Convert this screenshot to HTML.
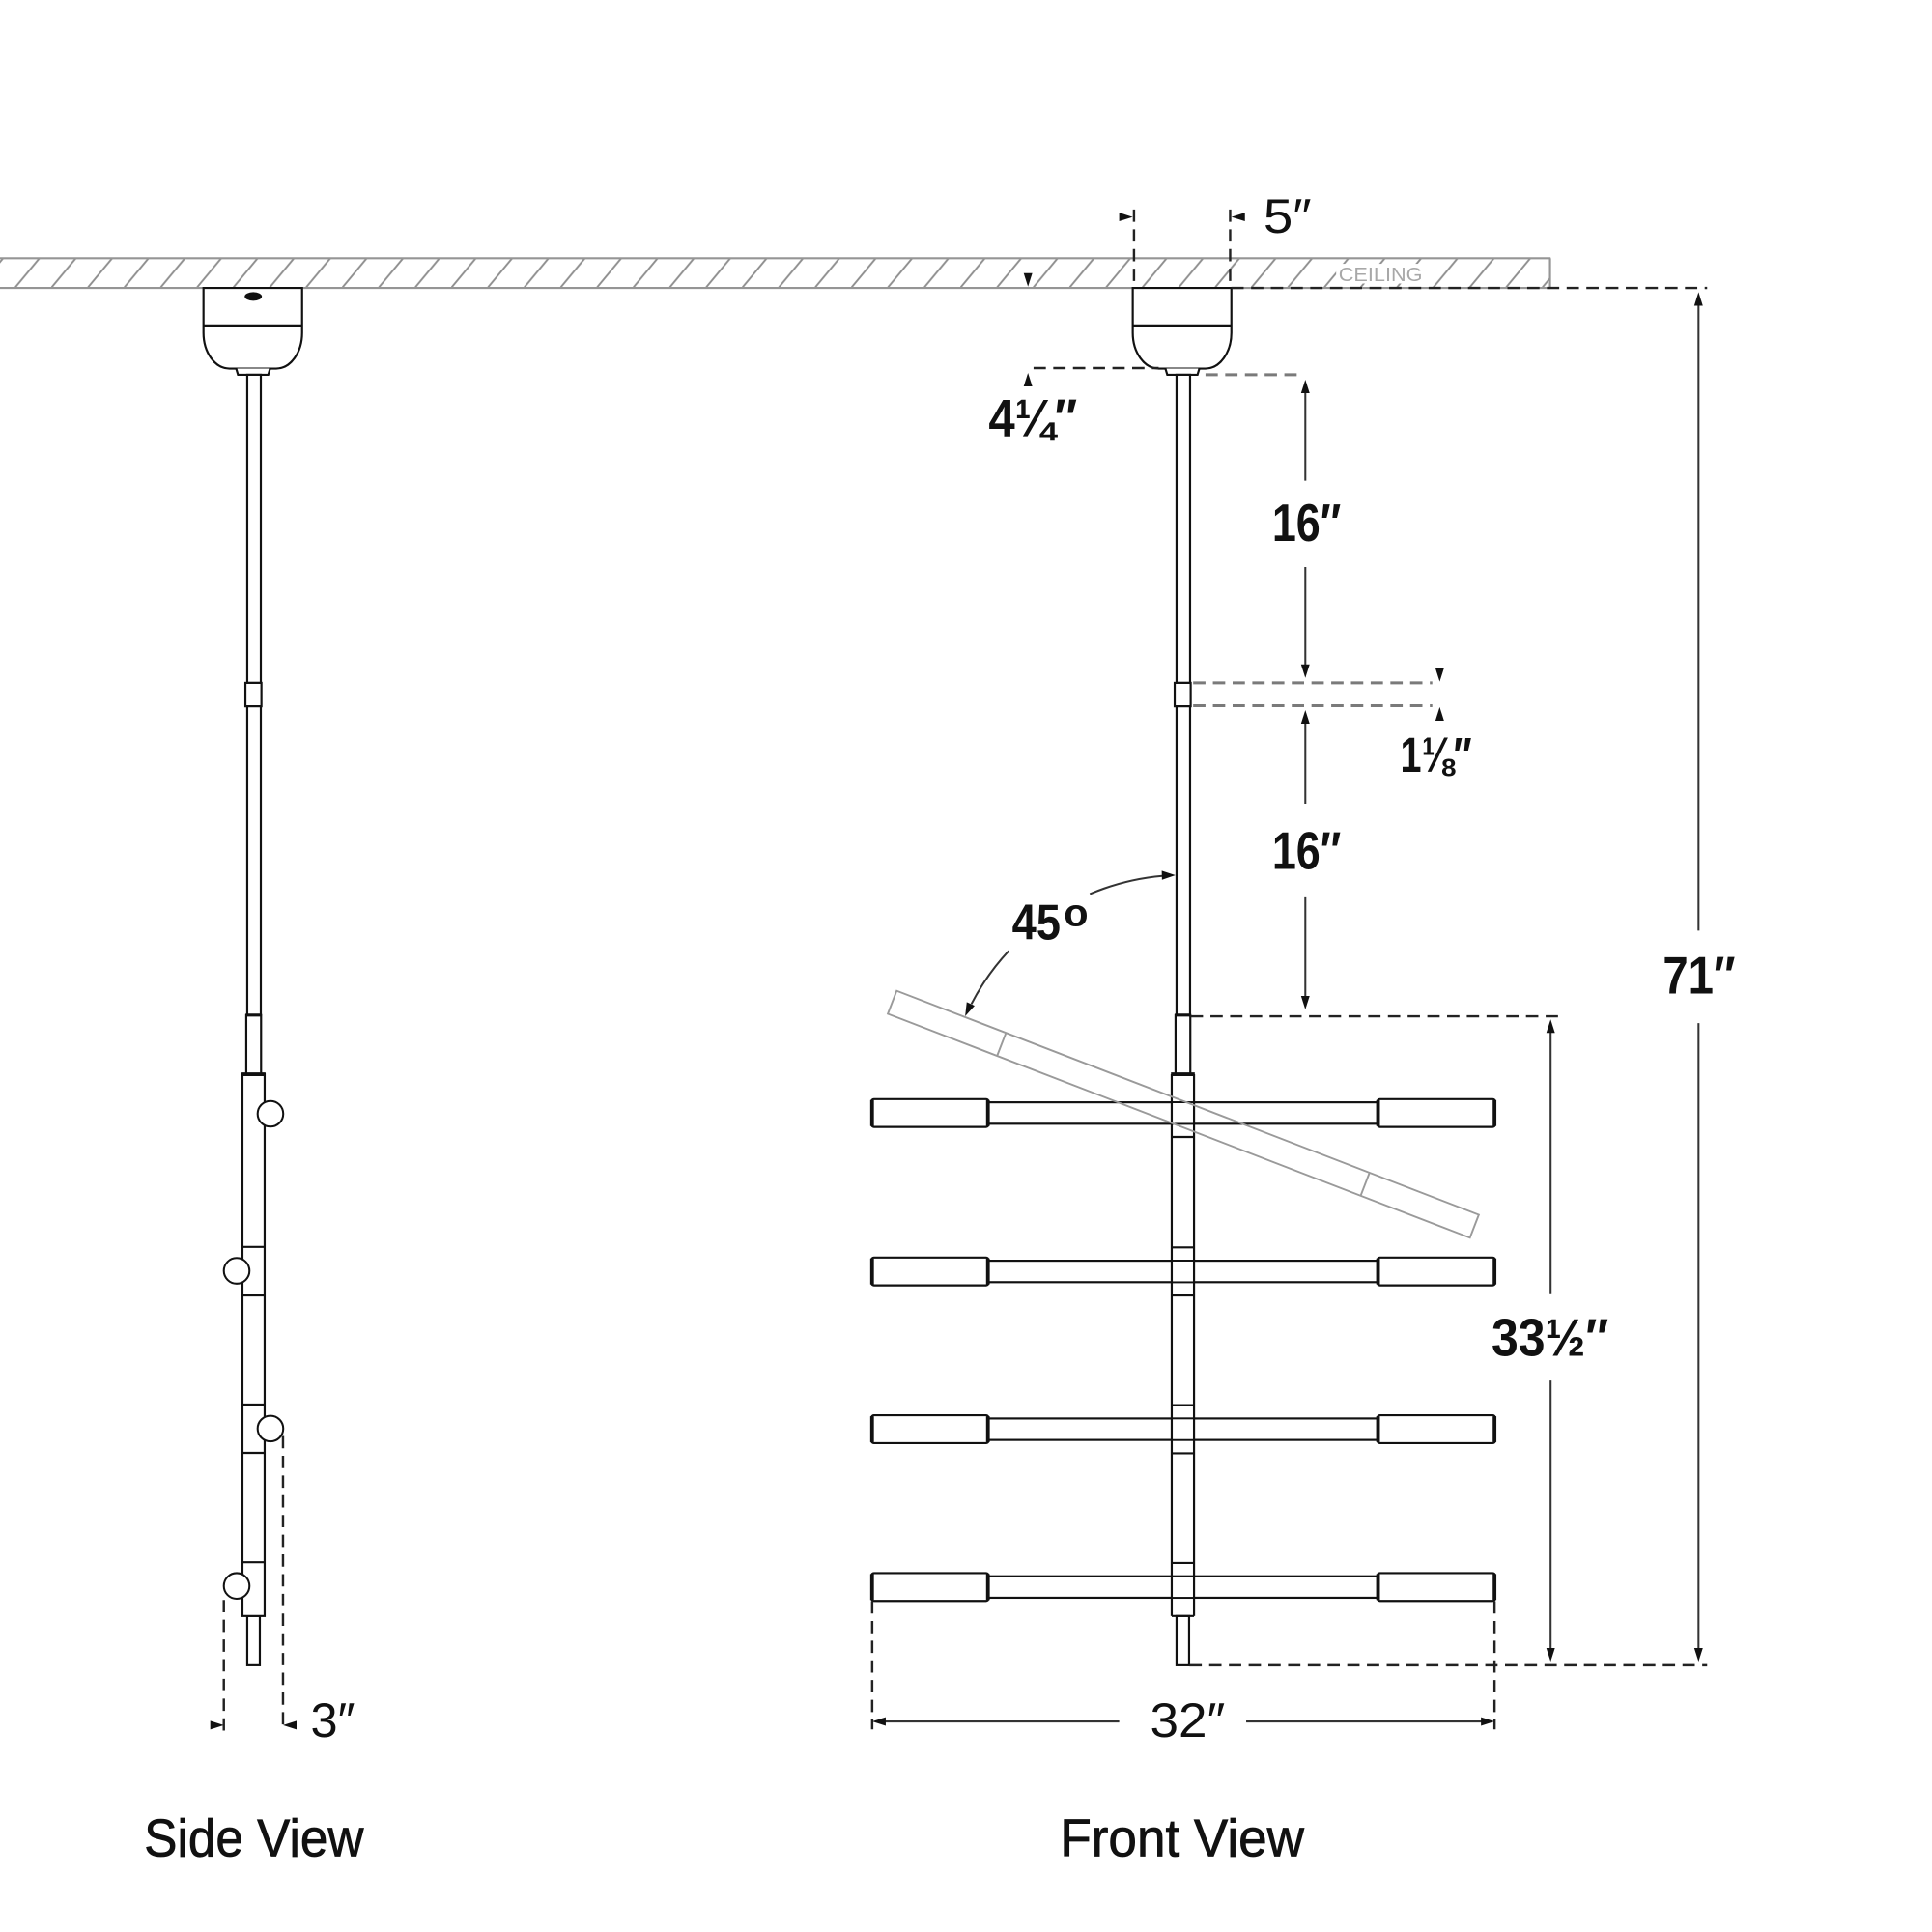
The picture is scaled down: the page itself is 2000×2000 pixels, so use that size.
<!DOCTYPE html>
<html>
<head>
<meta charset="utf-8">
<style>
html,body{margin:0;padding:0;background:#fff;}
svg{display:block;}
text{font-family:"Liberation Sans","DejaVu Sans",sans-serif;}
</style>
</head>
<body>
<svg width="2000" height="2000" viewBox="0 0 1567.4 1567.4" xmlns="http://www.w3.org/2000/svg">
<defs>
  <pattern id="hatch" patternUnits="userSpaceOnUse" x="12" y="209.5" width="29.5" height="24.1">
    <path d="M0,24.1 L20,0" stroke="#8e8e8e" stroke-width="1.5" fill="none"/>
  </pattern>
  <g id="pend" stroke="#111" stroke-width="1.7" fill="#fff">
    <path d="M919,233.6 V270 A21,29 0 0 0 940,299 H978 A21,29 0 0 0 999,270 V233.6 Z"/>
    <line x1="919" y1="264" x2="999" y2="264"/>
    <path d="M945.5,299 L947,304 H971.5 L973,299"/>
    <rect x="954.5" y="304" width="11" height="250"/>
    <rect x="953" y="554" width="13" height="19"/>
    <rect x="954.5" y="573" width="11" height="250.5"/>
    <rect x="953.7" y="823.5" width="12" height="48"/>
    <rect x="954.5" y="1311" width="10.2" height="40"/>
  </g>
</defs>

<rect x="0" y="0" width="1567.4" height="1567.4" fill="#fff"/>

<!-- Ceiling -->
<rect x="0" y="209.5" width="1258" height="24.1" fill="url(#hatch)"/>
<line x1="0" y1="209.5" x2="1258" y2="209.5" stroke="#959595" stroke-width="1.7"/>
<line x1="0" y1="233.6" x2="1258" y2="233.6" stroke="#959595" stroke-width="1.7"/>
<line x1="1257.5" y1="209.5" x2="1257.5" y2="233.6" stroke="#959595" stroke-width="1.7"/>
<rect x="1084" y="214" width="72" height="16" fill="#fff"/>
<text x="1086" y="228" font-size="16" fill="#a8a8a8" textLength="68" lengthAdjust="spacingAndGlyphs">CEILING</text>

<!-- ===== Front view pendant ===== -->
<g stroke="#111" stroke-width="1.7" fill="#fff">
  <rect x="802" y="894.3" width="315.5" height="17.4"/>
  <rect x="802" y="1022.8" width="315.5" height="17.4"/>
  <rect x="802" y="1150.8" width="315.5" height="17.4"/>
  <rect x="802" y="1278.8" width="315.5" height="17.4"/>
  <rect x="707" y="891.7" width="95" height="22.6" rx="2"/>
  <rect x="1117.5" y="891.7" width="95.5" height="22.6" rx="2"/>
  <rect x="707" y="1020.2" width="95" height="22.6" rx="2"/>
  <rect x="1117.5" y="1020.2" width="95.5" height="22.6" rx="2"/>
  <rect x="707" y="1148.2" width="95" height="22.6" rx="2"/>
  <rect x="1117.5" y="1148.2" width="95.5" height="22.6" rx="2"/>
  <rect x="707" y="1276.2" width="95" height="22.6" rx="2"/>
  <rect x="1117.5" y="1276.2" width="95.5" height="22.6" rx="2"/>
</g>
<g stroke="#111" stroke-width="3">
  <line x1="707.5" y1="892.5" x2="707.5" y2="913.5"/><line x1="801.5" y1="892.5" x2="801.5" y2="913.5"/>
  <line x1="1118" y1="892.5" x2="1118" y2="913.5"/><line x1="1212.5" y1="892.5" x2="1212.5" y2="913.5"/>
  <line x1="707.5" y1="1021" x2="707.5" y2="1042"/><line x1="801.5" y1="1021" x2="801.5" y2="1042"/>
  <line x1="1118" y1="1021" x2="1118" y2="1042"/><line x1="1212.5" y1="1021" x2="1212.5" y2="1042"/>
  <line x1="707.5" y1="1149" x2="707.5" y2="1170"/><line x1="801.5" y1="1149" x2="801.5" y2="1170"/>
  <line x1="1118" y1="1149" x2="1118" y2="1170"/><line x1="1212.5" y1="1149" x2="1212.5" y2="1170"/>
  <line x1="707.5" y1="1277" x2="707.5" y2="1298"/><line x1="801.5" y1="1277" x2="801.5" y2="1298"/>
  <line x1="1118" y1="1277" x2="1118" y2="1298"/><line x1="1212.5" y1="1277" x2="1212.5" y2="1298"/>
</g>

<use href="#pend"/>
<g stroke="#111" stroke-width="1.7" fill="none">
  <line x1="950.6" y1="871.5" x2="950.6" y2="894.3"/>
  <line x1="968.7" y1="871.5" x2="968.7" y2="894.3"/>
  <line x1="950.6" y1="911.7" x2="950.6" y2="1022.8"/>
  <line x1="968.7" y1="911.7" x2="968.7" y2="1022.8"/>
  <line x1="950.6" y1="1040.2" x2="950.6" y2="1150.8"/>
  <line x1="968.7" y1="1040.2" x2="968.7" y2="1150.8"/>
  <line x1="950.6" y1="1168.2" x2="950.6" y2="1278.8"/>
  <line x1="968.7" y1="1168.2" x2="968.7" y2="1278.8"/>
  <line x1="950.6" y1="1296.2" x2="950.6" y2="1311"/>
  <line x1="968.7" y1="1296.2" x2="968.7" y2="1311"/>
  <line x1="950.6" y1="1311" x2="968.7" y2="1311"/>
  <line x1="950.6" y1="922.4" x2="968.7" y2="922.4"/>
  <line x1="950.6" y1="1012" x2="968.7" y2="1012"/>
  <line x1="950.6" y1="1051" x2="968.7" y2="1051"/>
  <line x1="950.6" y1="1140" x2="968.7" y2="1140"/>
  <line x1="950.6" y1="1179" x2="968.7" y2="1179"/>
  <line x1="950.6" y1="1268" x2="968.7" y2="1268"/>
</g>
<g fill="#fff" stroke="none">
  <rect x="951.4" y="895" width="16.5" height="16"/>
  <rect x="951.4" y="1023.5" width="16.5" height="16"/>
  <rect x="951.4" y="1151.5" width="16.5" height="16"/>
  <rect x="951.4" y="1279.5" width="16.5" height="16"/>
</g>
<g stroke="#111" stroke-width="1.7">
  <line x1="950.6" y1="894" x2="950.6" y2="912"/><line x1="968.7" y1="894" x2="968.7" y2="912"/>
  <line x1="950.6" y1="1022.5" x2="950.6" y2="1040.5"/><line x1="968.7" y1="1022.5" x2="968.7" y2="1040.5"/>
  <line x1="950.6" y1="1150.5" x2="950.6" y2="1168.5"/><line x1="968.7" y1="1150.5" x2="968.7" y2="1168.5"/>
  <line x1="950.6" y1="1278.5" x2="950.6" y2="1296.5"/><line x1="968.7" y1="1278.5" x2="968.7" y2="1296.5"/>
</g>
<line x1="950" y1="871.5" x2="969.3" y2="871.5" stroke="#111" stroke-width="3"/>
<line x1="953.2" y1="823.5" x2="966.2" y2="823.5" stroke="#111" stroke-width="2.5"/>

<!-- tilted arm (gray) -->
<g transform="rotate(21.04 960 904)" stroke="#9a9a9a" stroke-width="1.5" fill="none">
  <rect x="707" y="894" width="506" height="20"/>
  <line x1="802" y1="894" x2="802" y2="914"/>
  <line x1="1118" y1="894" x2="1118" y2="914"/>
</g>

<!-- ===== Side view pendant ===== -->
<use href="#pend" transform="translate(-753.9 0)"/>
<ellipse cx="205.5" cy="240.5" rx="7" ry="3.5" fill="#111"/>
<g stroke="#111" stroke-width="1.7" fill="#fff">
  <rect x="196.7" y="871.5" width="18" height="439.5"/>
</g>
<g stroke="#111" stroke-width="1.7">
  <line x1="196.7" y1="1011.6" x2="214.7" y2="1011.6"/>
  <line x1="196.7" y1="1051" x2="214.7" y2="1051"/>
  <line x1="196.7" y1="1139.5" x2="214.7" y2="1139.5"/>
  <line x1="196.7" y1="1178.7" x2="214.7" y2="1178.7"/>
  <line x1="196.7" y1="1267.4" x2="214.7" y2="1267.4"/>
</g>
<line x1="196" y1="871.5" x2="215.4" y2="871.5" stroke="#111" stroke-width="3"/>
<line x1="199.3" y1="823.5" x2="212.3" y2="823.5" stroke="#111" stroke-width="2.5"/>
<g stroke="#111" stroke-width="1.6" fill="#fff">
  <circle cx="219.4" cy="903.6" r="10.4"/>
  <circle cx="192" cy="1031" r="10.4"/>
  <circle cx="219.4" cy="1159" r="10.4"/>
  <circle cx="192" cy="1286.6" r="10.4"/>
</g>

<!-- ===== Dashed extension lines ===== -->
<g stroke="#222" stroke-width="1.9" stroke-dasharray="10 6" fill="none">
  <line x1="999" y1="233.6" x2="1385" y2="233.6"/>
  <line x1="966" y1="824.5" x2="1265" y2="824.5"/>
  <line x1="965" y1="1351" x2="1385" y2="1351"/>
  <line x1="838.5" y1="298.6" x2="940" y2="298.6"/>
  <line x1="920" y1="170" x2="920" y2="233"/>
  <line x1="998" y1="170" x2="998" y2="233"/>
  <line x1="181.6" y1="1298" x2="181.6" y2="1404"/>
  <line x1="229.6" y1="1165" x2="229.6" y2="1404"/>
  <line x1="707.6" y1="1299" x2="707.6" y2="1403"/>
  <line x1="1212.5" y1="1299" x2="1212.5" y2="1403"/>
</g>
<g stroke="#7a7a7a" stroke-width="2.3" stroke-dasharray="10 6" fill="none">
  <line x1="978" y1="304" x2="1053" y2="304"/>
  <line x1="968" y1="554" x2="1162" y2="554"/>
  <line x1="968" y1="572.5" x2="1162" y2="572.5"/>
</g>

<!-- ===== Dimension lines ===== -->
<g stroke="#333" stroke-width="1.6" fill="none">
  <line x1="1059" y1="318" x2="1059" y2="390"/>
  <line x1="1059" y1="460" x2="1059" y2="540"/>
  <line x1="1059" y1="586" x2="1059" y2="652"/>
  <line x1="1059" y1="728" x2="1059" y2="809"/>
  <line x1="1258" y1="837" x2="1258" y2="1050"/>
  <line x1="1258" y1="1120" x2="1258" y2="1338"/>
  <line x1="1378" y1="247" x2="1378" y2="755"/>
  <line x1="1378" y1="830" x2="1378" y2="1338"/>
  <line x1="717" y1="1396.6" x2="908" y2="1396.6"/>
  <line x1="1011" y1="1396.6" x2="1203" y2="1396.6"/>
  <path d="M788.1,814.5 A193,193 0 0 1 818.4,771.4"/>
  <path d="M884.2,725.3 A193,193 0 0 1 943,710.6"/>
</g>
<g fill="#111">
  <polygon points="919,176 908,172.5 908,179.5"/>
  <polygon points="999,176 1010,172.5 1010,179.5"/>
  <polygon points="834,232.6 830.5,221.6 837.5,221.6"/>
  <polygon points="834,302.5 830.5,313.5 837.5,313.5"/>
  <polygon points="1059,308 1055.5,319 1062.5,319"/>
  <polygon points="1059,550 1055.5,539 1062.5,539"/>
  <polygon points="1168,553 1164.5,542 1171.5,542"/>
  <polygon points="1168,573.6 1164.5,584.6 1171.5,584.6"/>
  <polygon points="1059,576 1055.5,587 1062.5,587"/>
  <polygon points="1059,819 1055.5,808 1062.5,808"/>
  <polygon points="1258,827 1254.5,838 1261.5,838"/>
  <polygon points="1258,1348 1254.5,1337 1261.5,1337"/>
  <polygon points="1378,237 1374.5,248 1381.5,248"/>
  <polygon points="1378,1348 1374.5,1337 1381.5,1337"/>
  <polygon points="707.6,1396.6 718.6,1393.1 718.6,1400.1"/>
  <polygon points="1212.5,1396.6 1201.5,1393.1 1201.5,1400.1"/>
  <polygon points="181.6,1399.6 170.6,1396.1 170.6,1403.1"/>
  <polygon points="229.6,1399.6 240.6,1396.1 240.6,1403.1"/>
  <polygon points="953.6,710 942.7,713.8 942.5,706.4"/>
  <polygon points="783,824.5 790.7,815.9 784.3,813"/>
</g>

<!-- ===== Labels ===== -->
<g fill="#111">
  <text x="1025" y="189" font-size="39" textLength="39" lengthAdjust="spacingAndGlyphs">5″</text>
  <text x="802" y="354" font-size="43" font-weight="bold" textLength="72" lengthAdjust="spacingAndGlyphs">4¼″</text>
  <text x="1032" y="439" font-size="43" font-weight="bold" textLength="56" lengthAdjust="spacingAndGlyphs">16″</text>
  <text x="1136" y="626" font-size="40" font-weight="bold" textLength="58" lengthAdjust="spacingAndGlyphs">1⅛″</text>
  <text x="1032" y="705" font-size="43" font-weight="bold" textLength="56" lengthAdjust="spacingAndGlyphs">16″</text>
  <text x="821" y="762" font-size="41" font-weight="bold" textLength="39.5" lengthAdjust="spacingAndGlyphs">45</text>
  <text x="863" y="751" font-size="31" font-weight="bold" textLength="20" lengthAdjust="spacingAndGlyphs">o</text>
  <text x="1349" y="806" font-size="43" font-weight="bold" textLength="59" lengthAdjust="spacingAndGlyphs">71″</text>
  <text x="1210" y="1100" font-size="43" font-weight="bold" textLength="95" lengthAdjust="spacingAndGlyphs">33½″</text>
  <text x="933" y="1409" font-size="39" textLength="61" lengthAdjust="spacingAndGlyphs">32″</text>
  <text x="252" y="1409" font-size="39" textLength="36" lengthAdjust="spacingAndGlyphs">3″</text>
  <text x="117" y="1506" font-size="43" stroke="#111" stroke-width="0.6" textLength="178" lengthAdjust="spacingAndGlyphs">Side View</text>
  <text x="860" y="1506" font-size="43" stroke="#111" stroke-width="0.6" textLength="198" lengthAdjust="spacingAndGlyphs">Front View</text>
</g>
</svg>
</body>
</html>
